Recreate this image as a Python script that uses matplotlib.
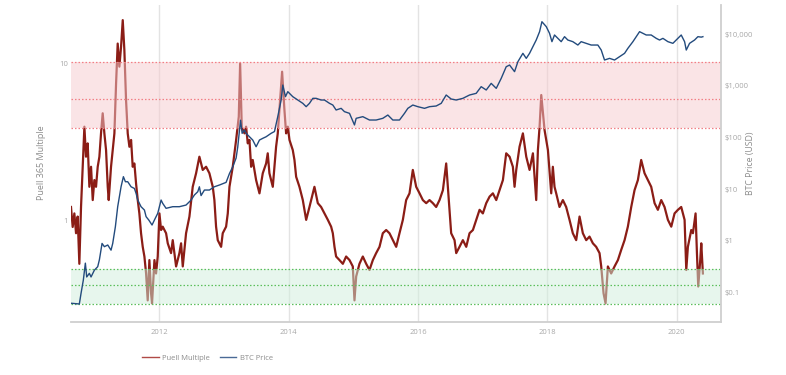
import matplotlib
matplotlib.use("Agg")
import matplotlib.pyplot as plt
from matplotlib.lines import Line2D

plt.rcParams['font.family'] = ['Open Sans', 'DejaVu Sans']

# Puell 365 Multiple (decimal year, value)
puell_year = [
    2010.634, 2010.660, 2010.686, 2010.712, 2010.737, 2010.763, 2010.789, 2010.815,
    2010.841, 2010.866, 2010.892, 2010.918, 2010.944, 2010.970, 2010.995, 2011.021,
    2011.047, 2011.073, 2011.098, 2011.124, 2011.150, 2011.176, 2011.202, 2011.217,
    2011.253, 2011.279, 2011.305, 2011.331, 2011.356, 2011.382, 2011.408, 2011.434,
    2011.459, 2011.485, 2011.511, 2011.537, 2011.563, 2011.588, 2011.614, 2011.640,
    2011.666, 2011.691, 2011.717, 2011.743, 2011.769, 2011.795, 2011.820, 2011.846,
    2011.872, 2011.887, 2011.924, 2011.949, 2011.975, 2012.001, 2012.027, 2012.052,
    2012.104, 2012.130, 2012.181, 2012.207, 2012.259, 2012.310, 2012.336, 2012.362,
    2012.388, 2012.413, 2012.465, 2012.516, 2012.568, 2012.619, 2012.671, 2012.723,
    2012.774, 2012.826, 2012.851, 2012.877, 2012.903, 2012.955, 2012.980, 2013.032,
    2013.058, 2013.084, 2013.135, 2013.187, 2013.228, 2013.249, 2013.274, 2013.316,
    2013.341, 2013.367, 2013.393, 2013.419, 2013.444, 2013.496, 2013.548, 2013.599,
    2013.651, 2013.676, 2013.702, 2013.754, 2013.780, 2013.805, 2013.831, 2013.857,
    2013.898, 2013.934, 2013.960, 2013.986, 2014.012, 2014.063, 2014.089, 2014.115,
    2014.166, 2014.218, 2014.270, 2014.321, 2014.373, 2014.398, 2014.450, 2014.501,
    2014.553, 2014.605, 2014.656, 2014.682, 2014.708, 2014.733, 2014.785, 2014.837,
    2014.888, 2014.940, 2014.991, 2015.017, 2015.043, 2015.094, 2015.146, 2015.198,
    2015.249, 2015.301, 2015.352, 2015.404, 2015.455, 2015.507, 2015.558, 2015.610,
    2015.662, 2015.713, 2015.765, 2015.816, 2015.868, 2015.919, 2015.971, 2016.023,
    2016.074, 2016.126, 2016.177, 2016.229, 2016.280, 2016.332, 2016.384, 2016.435,
    2016.461, 2016.512, 2016.564, 2016.590, 2016.641, 2016.693, 2016.745, 2016.796,
    2016.848, 2016.899, 2016.951, 2017.002, 2017.054, 2017.106, 2017.157, 2017.209,
    2017.260, 2017.312, 2017.363, 2017.415, 2017.466, 2017.492, 2017.518, 2017.569,
    2017.621, 2017.673, 2017.724, 2017.776, 2017.827, 2017.853, 2017.879, 2017.905,
    2017.956, 2018.008, 2018.059, 2018.084, 2018.110, 2018.136, 2018.187, 2018.239,
    2018.290, 2018.342, 2018.393, 2018.445, 2018.497, 2018.548, 2018.600, 2018.651,
    2018.703, 2018.754, 2018.806, 2018.832, 2018.868, 2018.899, 2018.935, 2018.986,
    2019.038, 2019.090, 2019.141, 2019.193, 2019.244, 2019.296, 2019.347, 2019.399,
    2019.450, 2019.502, 2019.554, 2019.605, 2019.657, 2019.708, 2019.760, 2019.811,
    2019.863, 2019.915, 2019.966, 2020.018, 2020.069, 2020.121, 2020.147, 2020.172,
    2020.224, 2020.250, 2020.291, 2020.312, 2020.332, 2020.363, 2020.379, 2020.404,
]
puell_value = [
    1.22, 0.91, 1.11, 0.83, 1.06, 0.53, 1.22, 2.20,
    3.96, 2.55, 3.10, 1.64, 2.20, 1.35, 1.81, 1.64,
    2.20, 2.55, 3.59, 4.82, 3.59, 2.81, 1.64, 1.35,
    2.20, 2.81, 3.59, 7.48, 13.4, 9.55, 12.8, 18.9,
    12.2, 5.86, 3.59, 2.95, 3.26, 2.20, 2.31, 1.72,
    1.35, 1.11, 0.83, 0.68, 0.59, 0.46, 0.31, 0.56,
    0.344, 0.297, 0.56, 0.46, 0.59, 1.11, 0.87, 0.914,
    0.83, 0.716, 0.62, 0.75, 0.51, 0.62, 0.716, 0.51,
    0.65, 0.83, 1.06, 1.64, 2.00, 2.55, 2.10, 2.20,
    2.00, 1.64, 1.35, 0.914, 0.75, 0.68, 0.83, 0.914,
    1.11, 1.64, 2.20, 3.26, 4.58, 10.0, 3.96, 3.59,
    3.96, 3.10, 3.26, 2.20, 2.43, 1.81, 1.49, 2.00,
    2.31, 2.68, 2.00, 1.64, 2.20, 2.95, 3.59, 5.06,
    8.87, 5.06, 3.59, 3.96, 3.26, 2.81, 2.43, 1.90,
    1.64, 1.35, 1.01, 1.22, 1.49, 1.64, 1.29, 1.22,
    1.11, 1.01, 0.914, 0.83, 0.68, 0.59, 0.56, 0.53,
    0.59, 0.56, 0.51, 0.31, 0.44, 0.53, 0.59, 0.53,
    0.484, 0.56, 0.62, 0.68, 0.83, 0.87, 0.83, 0.75,
    0.68, 0.83, 1.01, 1.35, 1.49, 2.10, 1.64, 1.49,
    1.35, 1.29, 1.35, 1.29, 1.22, 1.35, 1.56, 2.31,
    1.64, 0.83, 0.75, 0.62, 0.68, 0.75, 0.68, 0.83,
    0.87, 1.01, 1.17, 1.11, 1.29, 1.42, 1.49, 1.35,
    1.56, 1.81, 2.68, 2.55, 2.20, 1.64, 2.10, 2.95,
    3.59, 2.55, 2.10, 2.68, 1.35, 2.81, 3.96, 6.30,
    3.77, 2.81, 1.49, 2.20, 1.64, 1.49, 1.22, 1.35,
    1.22, 1.01, 0.83, 0.75, 1.06, 0.83, 0.75, 0.79,
    0.716, 0.68, 0.62, 0.51, 0.344, 0.297, 0.51, 0.46,
    0.51, 0.56, 0.65, 0.75, 0.914, 1.22, 1.56, 1.81,
    2.43, 2.00, 1.81, 1.64, 1.29, 1.17, 1.35, 1.22,
    1.01, 0.914, 1.11, 1.17, 1.22, 1.01, 0.484, 0.68,
    0.87, 0.83, 1.11, 0.62, 0.38, 0.56, 0.716, 0.46,
]

# BTC price in USD (decimal year, price)
btc_year = [
    2010.634, 2010.763, 2010.789, 2010.825, 2010.856, 2010.877, 2010.918, 2010.944,
    2010.995, 2011.047, 2011.073, 2011.114, 2011.150, 2011.202, 2011.253, 2011.279,
    2011.320, 2011.356, 2011.382, 2011.408, 2011.444, 2011.475, 2011.511, 2011.563,
    2011.614, 2011.640, 2011.666, 2011.717, 2011.769, 2011.795, 2011.836, 2011.887,
    2011.924, 2011.975, 2012.027, 2012.052, 2012.104, 2012.207, 2012.310, 2012.413,
    2012.491, 2012.542, 2012.594, 2012.619, 2012.645, 2012.697, 2012.774, 2012.851,
    2012.929, 2013.032, 2013.084, 2013.135, 2013.187, 2013.212, 2013.255, 2013.280,
    2013.316, 2013.341, 2013.393, 2013.444, 2013.496, 2013.548, 2013.599, 2013.651,
    2013.728, 2013.780, 2013.831, 2013.883, 2013.909, 2013.950, 2013.986, 2014.063,
    2014.141, 2014.218, 2014.270, 2014.321, 2014.373, 2014.424, 2014.501, 2014.553,
    2014.631, 2014.682, 2014.733, 2014.811, 2014.862, 2014.940, 2015.017, 2015.043,
    2015.146, 2015.249, 2015.352, 2015.455, 2015.533, 2015.610, 2015.713, 2015.790,
    2015.842, 2015.919, 2015.997, 2016.100, 2016.177, 2016.280, 2016.358, 2016.435,
    2016.512, 2016.590, 2016.693, 2016.796, 2016.899, 2016.976, 2017.054, 2017.131,
    2017.209, 2017.286, 2017.363, 2017.415, 2017.492, 2017.544, 2017.621, 2017.673,
    2017.724, 2017.776, 2017.827, 2017.879, 2017.915, 2017.982, 2018.033, 2018.070,
    2018.110, 2018.162, 2018.213, 2018.265, 2018.316, 2018.393, 2018.471, 2018.522,
    2018.600, 2018.677, 2018.780, 2018.832, 2018.883, 2018.961, 2019.038, 2019.115,
    2019.193, 2019.244, 2019.322, 2019.373, 2019.425, 2019.476, 2019.528, 2019.605,
    2019.683, 2019.734, 2019.786, 2019.863, 2019.940, 2020.018, 2020.069, 2020.121,
    2020.147, 2020.198, 2020.275, 2020.327, 2020.379, 2020.404,
]
btc_price = [
    0.062, 0.060, 0.096, 0.175, 0.37, 0.20, 0.235, 0.20,
    0.27, 0.316, 0.43, 0.89, 0.77, 0.83, 0.66, 0.89,
    1.87, 4.57, 7.1, 11.1, 17.4, 13.9, 13.9, 11.1,
    10.3, 8.3, 6.15, 4.57, 3.94, 2.93, 2.53, 2.02,
    2.53, 3.4, 6.15, 5.3, 4.25, 4.57, 4.57, 4.92,
    6.15, 7.7, 8.9, 11.1, 7.5, 9.6, 9.6, 11.1,
    12.0, 13.5, 20.0, 27.0, 40.0, 65.0, 215.0, 120.0,
    139.0, 120.0, 103.0, 89.0, 66.0, 89.0, 96.0, 103.0,
    120.0, 130.0, 252.0, 529.0, 1030.0, 614.0, 767.0, 614.0,
    529.0, 456.0, 393.0, 456.0, 570.0, 570.0, 529.0, 529.0,
    456.0, 423.0, 339.0, 365.0, 315.0, 292.0, 174.0, 234.0,
    252.0, 217.0, 217.0, 234.0, 271.0, 217.0, 217.0, 292.0,
    365.0, 423.0, 393.0, 365.0, 393.0, 405.0, 456.0, 661.0,
    553.0, 529.0, 570.0, 661.0, 712.0, 958.0, 826.0, 1110.0,
    889.0, 1390.0, 2330.0, 2510.0, 1870.0, 2920.0, 4230.0, 3380.0,
    4230.0, 5690.0, 7650.0, 11100.0, 17300.0, 13900.0, 10300.0, 7110.0,
    9570.0, 8240.0, 7110.0, 8880.0, 7650.0, 7110.0, 6120.0, 7110.0,
    6600.0, 6120.0, 6120.0, 4900.0, 3140.0, 3380.0, 3140.0, 3640.0,
    4230.0, 5280.0, 7110.0, 8880.0, 11100.0, 10300.0, 9570.0, 9570.0,
    8240.0, 7650.0, 8240.0, 7110.0, 6600.0, 8240.0, 9570.0, 7110.0,
    4900.0, 6600.0, 7650.0, 8880.0, 8700.0, 8880.0,
]

# zones on the Puell axis: (low, mid, high)
red_zone = [3.9, 5.9, 10.2]
green_zone = [0.294, 0.39, 0.49]

year_ticks = [2012, 2014, 2016, 2018, 2020]
puell_ticks = [1, 10]
price_ticks = [0.1, 1, 10, 100, 1000, 10000]
price_labels = ['$0.1', '$1', '$10', '$100', '$1,000', '$10,000']

red_col = '#8b1d16'
blue_col = '#234b7d'
tick_col = '#a8a8a8'
title_col = '#8c8c8c'

fig = plt.figure(figsize=(7.86, 3.75), dpi=100)
ax = fig.add_axes([71/786, 1 - 322/375, 650/786, 317/375])

ax.plot(puell_year, puell_value, color=red_col, lw=1.6, zorder=2)

# shaded zones sit above the Puell line, fading it
ax.axhspan(red_zone[0], red_zone[2], color='#f7cbcf', alpha=0.5, lw=0, zorder=3)
ax.axhspan(green_zone[0], green_zone[2], color='#d1efdd', alpha=0.5, lw=0, zorder=3)
for v in red_zone:
    ax.axhline(v, color='#f27f86', lw=0.9, ls=(0, (1.2, 1.6)), zorder=4)
for v in green_zone:
    ax.axhline(v, color='#5cbf5c', lw=0.9, ls=(0, (1.2, 1.6)), zorder=4)

ax.set_yscale('log')
ax.set_ylim(0.2258, 23.59)
ax.set_xlim(2010.634, 2020.684)
ax.set_yticks(puell_ticks)
ax.set_yticklabels([str(t) for t in puell_ticks])
ax.minorticks_off()
ax.set_xticks(year_ticks)
ax.set_xticklabels([str(t) for t in year_ticks])
ax.grid(axis='x', color='#e3e3e3', lw=1.0, zorder=0)
ax.set_axisbelow(True)
ax.tick_params(axis='both', length=0, colors=tick_col, labelsize=5.5)
ax.tick_params(axis='x', pad=5)
ax.tick_params(axis='y', pad=2)
for s in ['left', 'top', 'right']:
    ax.spines[s].set_visible(False)
ax.spines['bottom'].set_color('#cfcfcf')
ax.spines['bottom'].set_linewidth(1.3)

ax2 = ax.twinx()
ax2.plot(btc_year, btc_price, color=blue_col, lw=1.0, zorder=5)
ax2.set_yscale('log')
ax2.set_ylim(0.0269, 36400)
ax2.set_yticks(price_ticks)
ax2.set_yticklabels(price_labels)
ax2.minorticks_off()
ax2.tick_params(axis='y', length=0, colors=tick_col, labelsize=5.5, pad=2.5)
for s in ['left', 'top', 'bottom']:
    ax2.spines[s].set_visible(False)
ax2.spines['right'].set_color('#cfcfcf')
ax2.spines['right'].set_linewidth(1.3)

fig.text(42/786, 1 - 163/375, 'Puell 365 Multiple', rotation=90, ha='center',
         va='center', fontsize=6.5, color=title_col)
fig.text(750/786, 1 - 163/375, 'BTC Price (USD)', rotation=90, ha='center',
         va='center', fontsize=6.3, color=title_col)

handles = [Line2D([], [], color='#b04a47', lw=1.0),
           Line2D([], [], color='#4a6a96', lw=1.0)]
fig.legend(handles, ['Puell Multiple', 'BTC Price'], loc='center left',
           bbox_to_anchor=(135/786, 1 - 358/375), ncol=2, frameon=False,
           fontsize=5.5, labelcolor=title_col, handlelength=2.2,
           handletextpad=0.5, columnspacing=1.2)

fig.savefig('out.png', dpi=100)
